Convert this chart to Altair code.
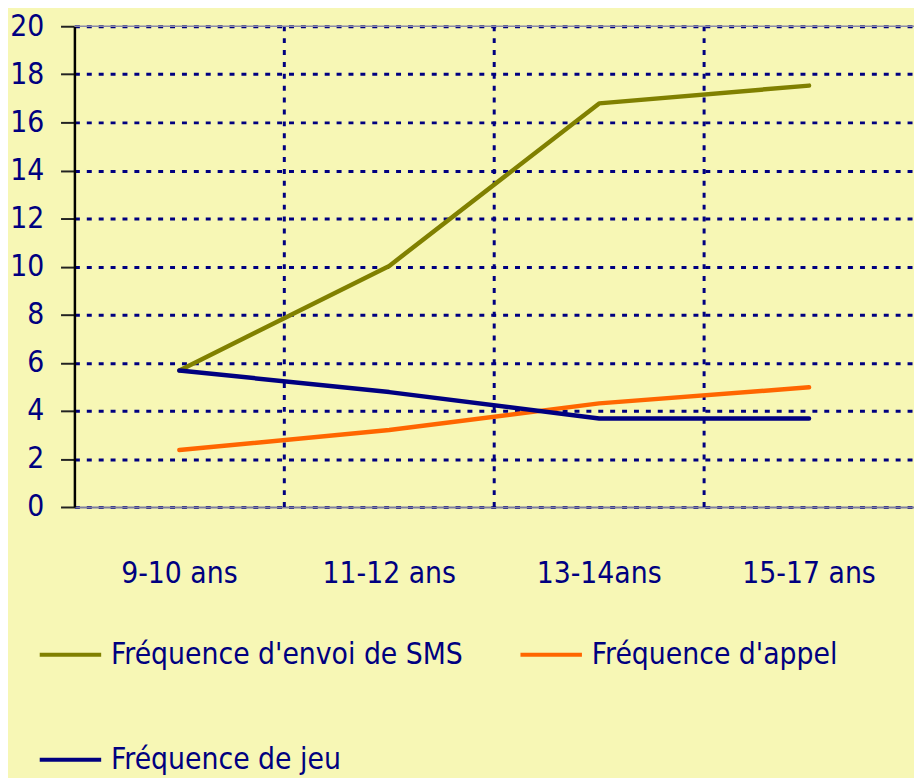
import altair as alt
import pandas as pd

categories = ["9-10 ans", "11-12 ans", "13-14ans", "15-17 ans"]
series_names = ["Fréquence d'envoi de SMS", "Fréquence d'appel", "Fréquence de jeu"]
sms = [5.68, 10.03, 16.79, 17.53]
appel = [2.37, 3.20, 4.31, 4.98]
jeu = [5.68, 4.78, 3.68, 3.68]
colors = ["#808000", "#FF6600", "#000080"]
y_ticks = list(range(0, 21, 2))

rows = []
for name, vals in zip(series_names, [sms, appel, jeu]):
    for i, (c, v) in enumerate(zip(categories, vals)):
        rows.append({"cat": c, "serie": name, "val": v, "idx": i})
df = pd.DataFrame(rows)
bounds = pd.DataFrame({"cat": categories[1:]})

FONT = "DejaVu Sans Condensed"
NAVY = "#000080"
BG = "#F7F7B5"
FS = 30

xscale = alt.Scale(domain=categories, paddingInner=0, paddingOuter=0)
xaxis = alt.Axis(labelAngle=0, ticks=False, tickSize=0, grid=False,
                 domainColor="#7F7F9F", domainWidth=2,
                 labelFont=FONT, labelFontSize=FS, labelColor=NAVY,
                 labelPadding=52)

grid_v = alt.Chart(bounds).mark_rule(
    color=NAVY, strokeWidth=3, strokeDash=[5, 7]
).encode(
    x=alt.X("cat:N", bandPosition=0, scale=xscale, sort=categories, title=None, axis=xaxis)
)

top_border = alt.Chart(pd.DataFrame({"v": [20]})).mark_rule(
    color="#8A8AA8", strokeWidth=1.5
).encode(y=alt.Y("v:Q"))

lines = alt.Chart(df).mark_line(strokeWidth=4.5, strokeCap="round", strokeJoin="round").encode(
    x=alt.X("cat:N", scale=xscale, sort=categories, title=None, axis=xaxis),
    y=alt.Y("val:Q", scale=alt.Scale(domain=[0, 20], nice=False), title=None,
            axis=alt.Axis(values=y_ticks, grid=True, gridColor=NAVY, gridDash=[5, 7],
                          gridWidth=3, domainColor="black", domainWidth=2.5,
                          tickColor="#222222", tickWidth=2, tickSize=14,
                          labelFont=FONT, labelFontSize=FS, labelColor=NAVY,
                          labelPadding=17)),
    color=alt.Color("serie:N", sort=series_names,
                    scale=alt.Scale(domain=series_names, range=colors),
                    legend=alt.Legend(title=None, orient="none", legendX=-37, legendY=601,
                                      columns=2, direction="horizontal",
                                      symbolType="stroke", symbolSize=3844,
                                      symbolStrokeWidth=4, labelFont=FONT, labelFontSize=FS,
                                      labelColor=NAVY, labelOffset=8, columnPadding=49,
                                      rowPadding=58, labelLimit=500)),
    order=alt.Order("idx:Q")
)

chart = alt.layer(grid_v, top_border, lines).properties(
    width=847, height=485,
    background=BG,
    padding={"left": 67, "top": 15, "right": 0, "bottom": 270},
    autosize=alt.AutoSizeParams(type="none"),
).configure_view(stroke=None)

chart.save("out.html", embed_options={"renderer": "svg", "actions": False})
